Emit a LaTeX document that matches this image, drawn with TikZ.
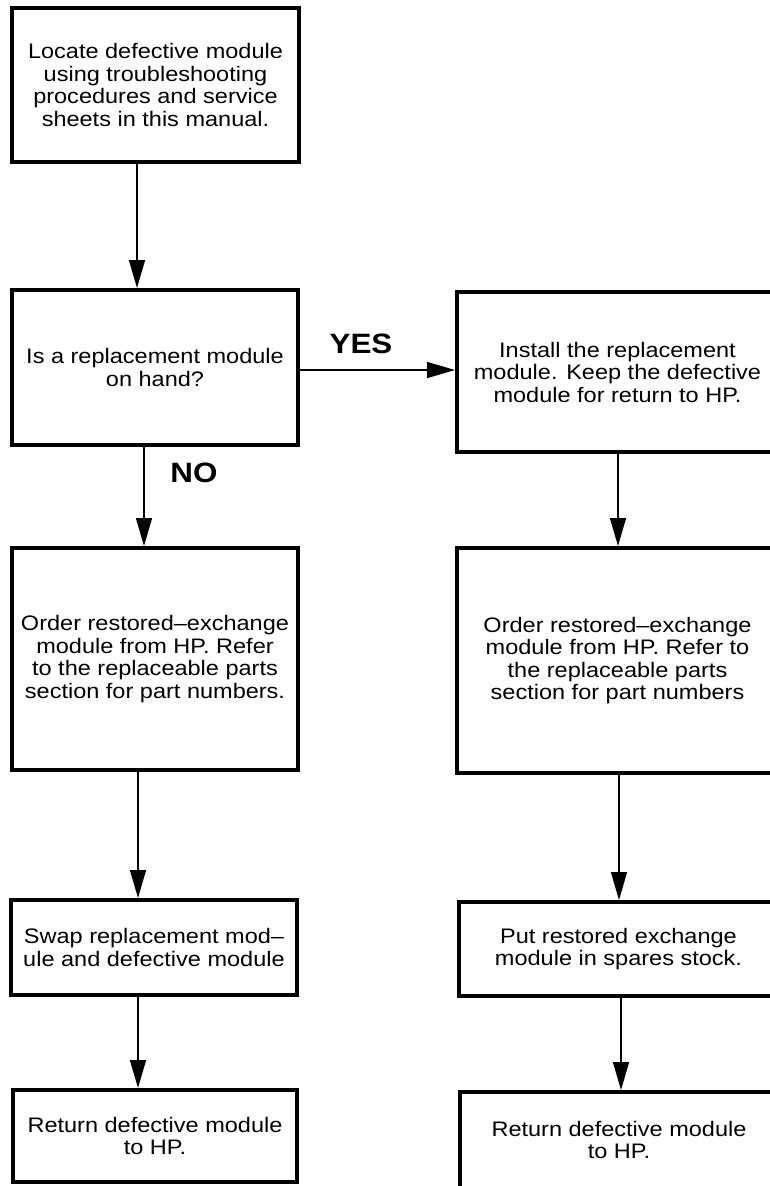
\documentclass[tikz,border=0pt]{standalone}
\usepackage{fontspec}
\setmainfont{Liberation Sans}[FakeStretch=1.12]
\usetikzlibrary{arrows.meta}
\begin{document}
\begin{tikzpicture}[x=1pt,y=-1pt,
  boxstyle/.style={draw=black, line width=4pt, align=center, inner sep=0pt,
    font=\fontsize{21}{22.5}\selectfont},
  arr/.style={line width=1.5pt, -{Triangle[length=28pt,width=16pt]}},
  lbl/.style={font=\fontsize{28}{30}\selectfont\bfseries, inner sep=0pt}]
\useasboundingbox (0,0) rectangle (770,1186);
\clip (0,0) rectangle (770,1186);
\fill[white] (0,0) rectangle (770,1186);

\node[boxstyle, minimum width=287pt, minimum height=154pt] (b1) at (155.5,85)
  {Locate defective module\\using troubleshooting\\procedures and service\\sheets in this manual.};
\node[boxstyle, minimum width=286pt, minimum height=155pt] (b2) at (155,367.5)
  {Is a replacement module\\on hand?};
\node[boxstyle, minimum width=321pt, minimum height=160pt] (b3) at (617.5,372)
  {Install the replacement\\module. Keep the defective\\module for return to HP.};
\node[boxstyle, minimum width=286pt, minimum height=222pt] (b4) at (155,659)
  {Order restored–exchange\\module from HP. Refer\\to the replaceable parts\\section for part numbers.};
\node[boxstyle, minimum width=321pt, minimum height=225pt] (b5) at (617.5,660.5)
  {Order restored–exchange\\module from HP. Refer to\\the replaceable parts\\section for part numbers};
\node[boxstyle, minimum width=286pt, minimum height=95pt] (b6) at (154,947.5)
  {Swap replacement mod–\\ule and defective module};
\node[boxstyle, minimum width=319pt, minimum height=94pt] (b7) at (618.5,949)
  {Put restored exchange\\module in spares stock.};
\node[boxstyle, minimum width=284pt, minimum height=92pt] (b8) at (155,1136)
  {Return defective module\\to HP.};
\node[boxstyle, minimum width=318pt, minimum height=96pt] (b9) at (619,1140)
  {Return defective module\\to HP.};

\coordinate (c1) at (137,0);
\coordinate (c2) at (144,0);
\coordinate (c3) at (138,0);
\coordinate (c4) at (618,0);
\coordinate (c5) at (619,0);
\coordinate (c6) at (621,0);
\coordinate (cy) at (0,370);

\draw[arr] (b1.south -| c1) -- (b2.north -| c1);
\draw[arr] (b2.south -| c2) -- (b4.north -| c2);
\draw[arr] (b4.south -| c3) -- (b6.north -| c3);
\draw[arr] (b6.south -| c3) -- (b8.north -| c3);
\draw[arr] (b2.east |- cy) -- (b3.west |- cy);
\draw[arr] (b3.south -| c4) -- (b5.north -| c4);
\draw[arr] (b5.south -| c5) -- (b7.north -| c5);
\draw[arr] (b7.south -| c6) -- (b9.north -| c6);

\node[lbl] (yes) at (361,344) {YES};
\node[lbl] (no) at (194,473) {NO};
\end{tikzpicture}
\end{document}
